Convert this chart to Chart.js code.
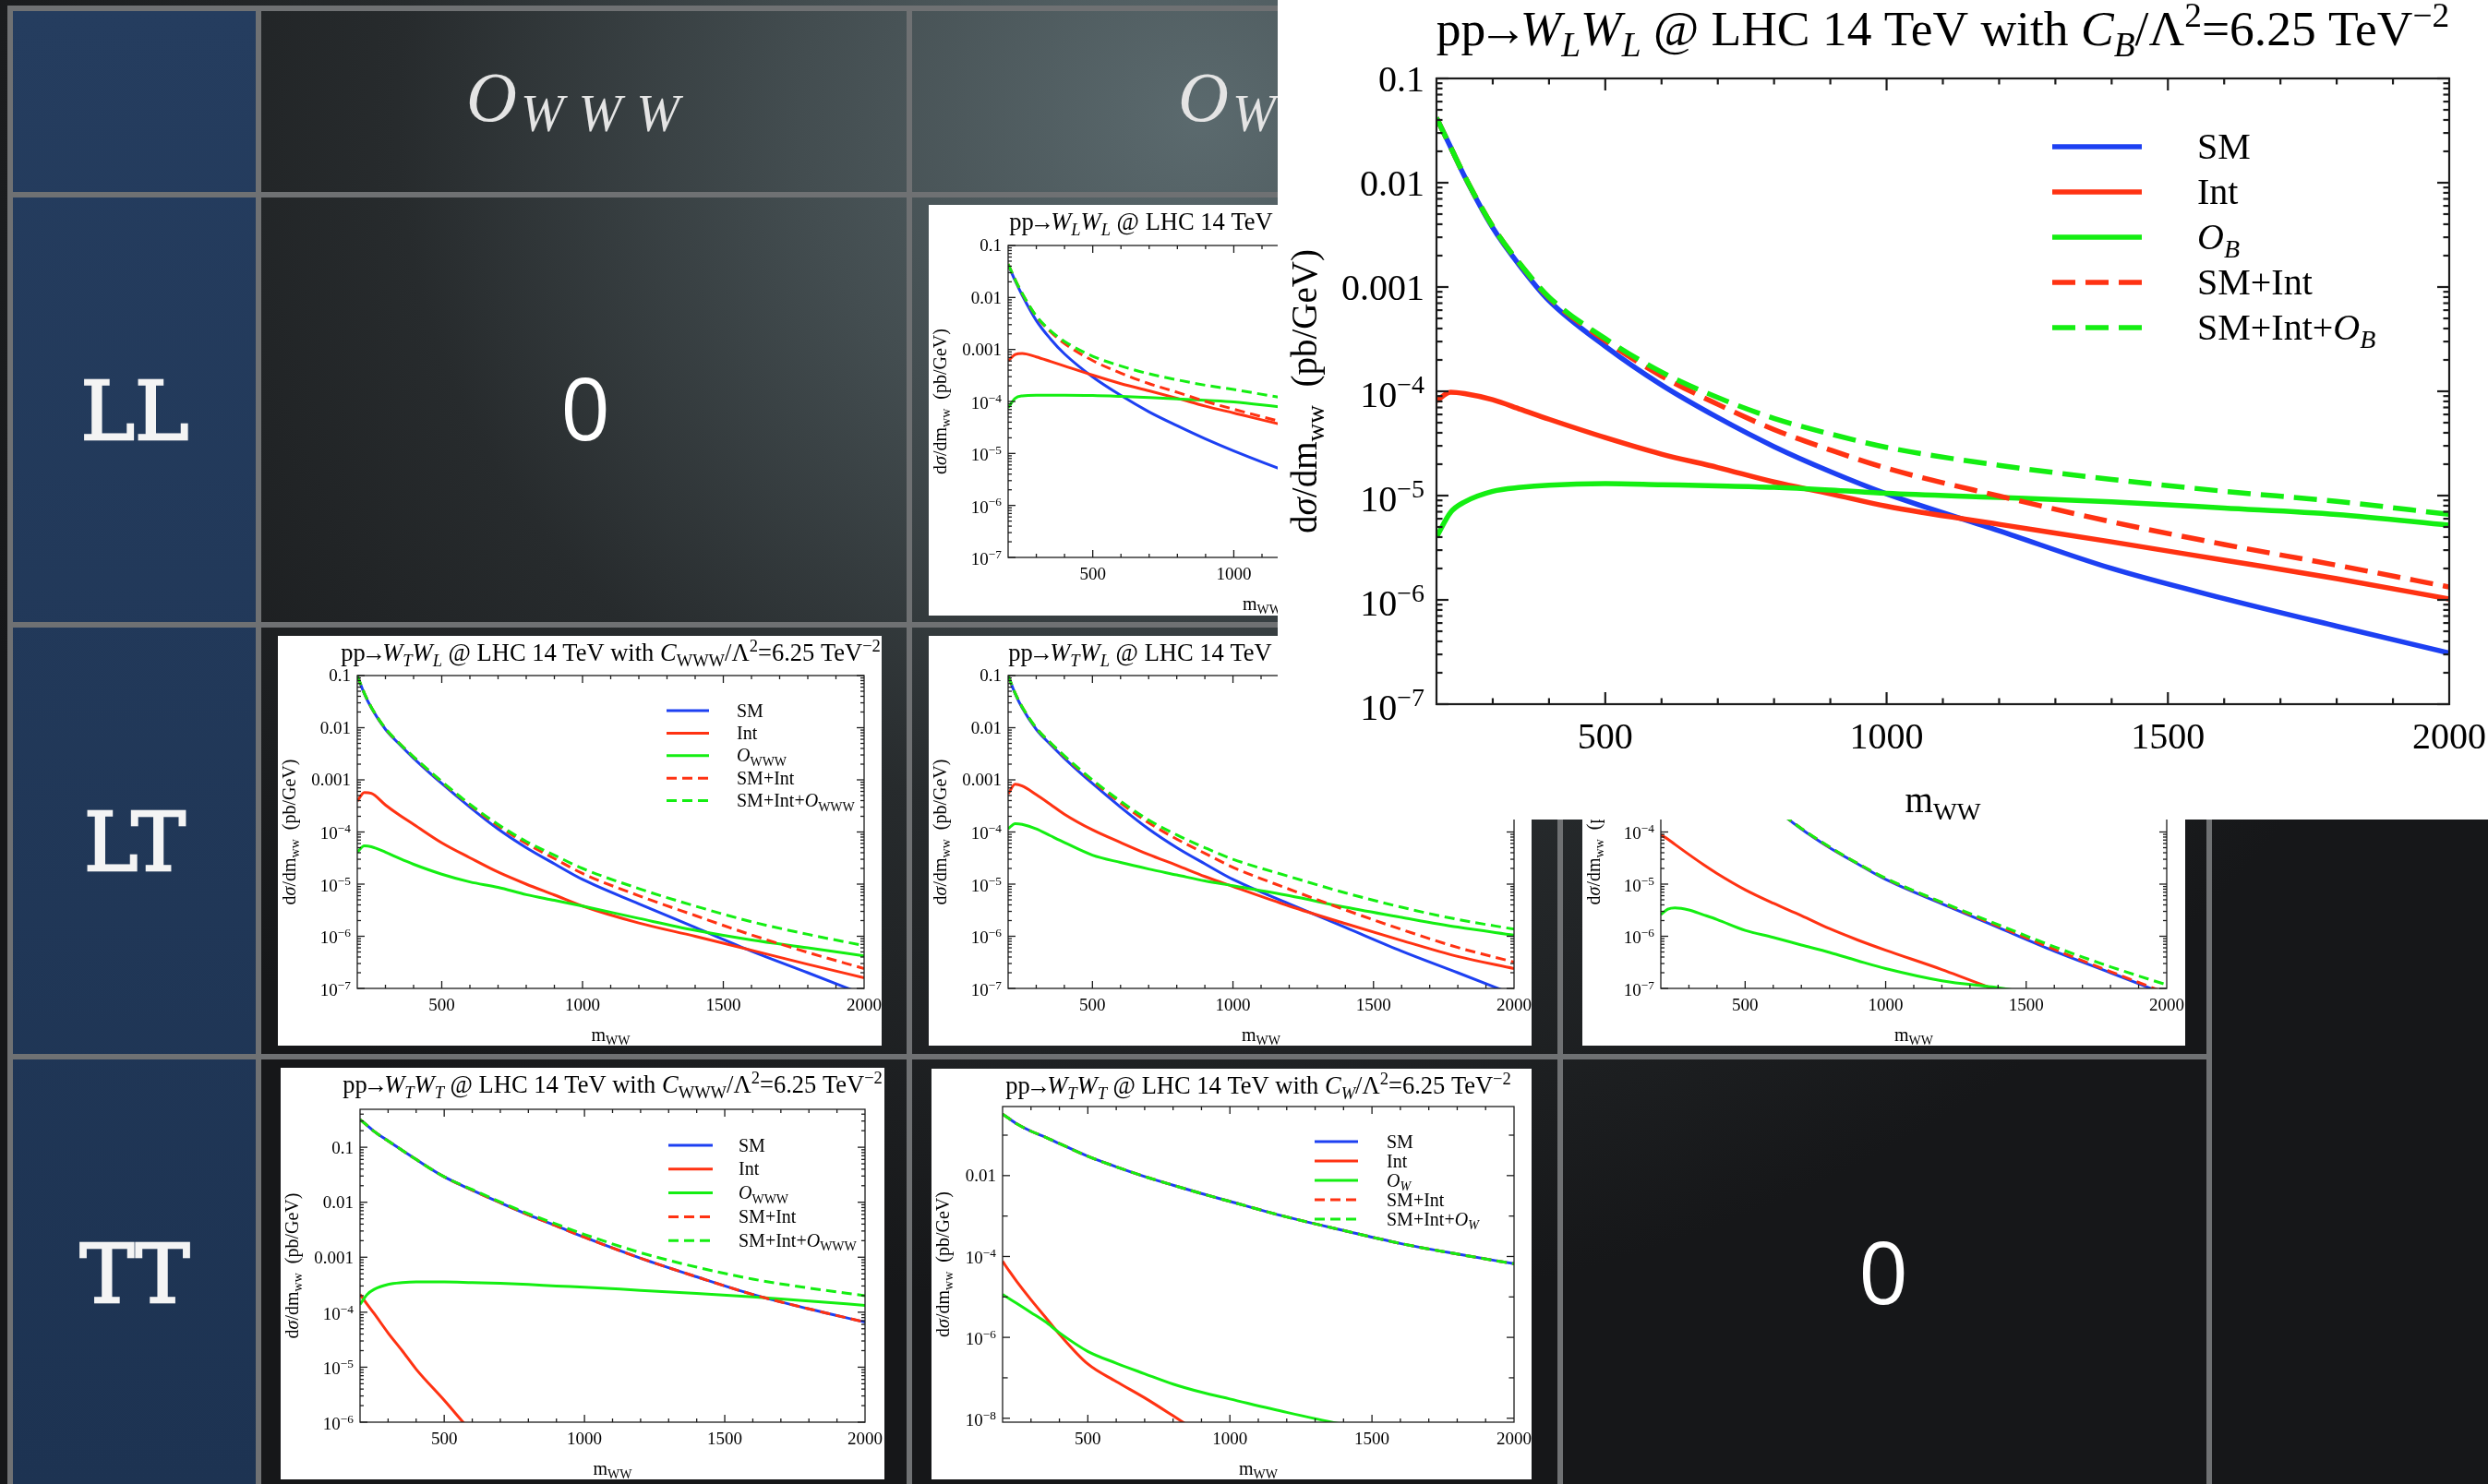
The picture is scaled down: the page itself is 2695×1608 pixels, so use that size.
<!DOCTYPE html>
<html>
<head>
<meta charset="utf-8">
<script src="https://cdn.jsdelivr.net/npm/chart.js@4.4.1/dist/chart.umd.min.js"></script>
<style>
  html, body { margin: 0; padding: 0; }
  body {
    width: 2695px; height: 1608px; overflow: hidden; position: relative;
    background: radial-gradient(ellipse 1450px 1300px at 1300px 130px, #5b6a6e 0%, #434d50 30%, #272b2d 60%, #161719 100%);
  }
  .navy { position: absolute; left: 14px; top: 12px; width: 263px; height: 1596px;
          background: linear-gradient(180deg, #253d5f, #1d3352); }
  .gl { position: absolute; background: #6f7173; z-index: 1; }
  .lbl { position: absolute; color: #f4f4f4; font-family: 'DejaVu Serif', serif; font-size: 88px;
         line-height: 88px; transform: translate(-50%, -50%); z-index: 2;
         -webkit-text-stroke: 2.5px #f4f4f4; }
  .zero { position: absolute; color: #fff; font-family: 'Open Sans', sans-serif; font-size: 94px;
          line-height: 94px; transform: translate(-50%, -50%); z-index: 2; }
  .hdr { position: absolute; color: #e4e4e4; font-family: 'Liberation Serif', serif; font-style: italic;
         font-size: 76px; line-height: 76px; white-space: nowrap; z-index: 2; }
  .hdr span { font-size: 56px; position: relative; top: 11px; left: 4px; letter-spacing: 16px; }
  canvas { position: absolute; background: #fff; }
</style>
</head>
<body>
<div class="navy"></div>

<div class="gl" style="left:8px;top:6px;width:6px;height:1602px"></div>
<div class="gl" style="left:277px;top:6px;width:6px;height:1602px"></div>
<div class="gl" style="left:982px;top:6px;width:6px;height:1602px"></div>
<div class="gl" style="left:1687px;top:6px;width:6px;height:1602px"></div>
<div class="gl" style="left:2390px;top:6px;width:6px;height:1602px"></div>
<div class="gl" style="left:8px;top:6px;width:2388px;height:6px"></div>
<div class="gl" style="left:8px;top:208px;width:2388px;height:6px"></div>
<div class="gl" style="left:8px;top:674px;width:2388px;height:6px"></div>
<div class="gl" style="left:8px;top:1142px;width:2388px;height:6px"></div>

<div class="hdr" style="left:505px;top:67px">O<span>WWW</span></div>
<div class="hdr" style="left:1276px;top:67px">O<span>W</span></div>
<div class="hdr" style="left:1990px;top:67px">O<span>B</span></div>

<div class="lbl" style="left:146px;top:446px">LL</div>
<div class="lbl" style="left:146px;top:913px">LT</div>
<div class="lbl" style="left:146px;top:1381px">TT</div>

<div class="zero" style="left:634px;top:441px">0</div>
<div class="zero" style="left:2040px;top:1377px">0</div>

<script>
// invariant mass grid (GeV)
const mWW = [200, 225, 250, 300, 350, 400, 500, 600, 700, 800, 900, 1000, 1200, 1400, 1600, 1800, 2000];

const xTickVals = [500, 1000, 1500, 2000];
const yTicksMain = [0.1, 0.01, 0.001, 1e-4, 1e-5, 1e-6, 1e-7];
const yTicksTTwww = [0.1, 0.01, 0.001, 1e-4, 1e-5, 1e-6];
const yTicksTTw = [0.01, 1e-4, 1e-6, 1e-8];

// W_L W_L, C_W
const llW_sm    = [0.043, 0.021, 0.011, 3.6e-3, 1.6e-3, 8.2e-4, 2.95e-4, 1.3e-4, 6.3e-5, 3.4e-5, 1.9e-5, 1.12e-5, 4.3e-6, 1.9e-6, 9.5e-7, 5.2e-7, 2.9e-7];
const llW_int   = [6.0e-4, 8.0e-4, 8.4e-4, 7.2e-4, 5.9e-4, 4.8e-4, 3.2e-4, 2.2e-4, 1.6e-4, 1.15e-4, 8.1e-5, 6.0e-5, 3.3e-5, 2.0e-5, 1.3e-5, 8.5e-6, 5.8e-6];
const llW_op    = [7.6e-5, 1.15e-4, 1.28e-4, 1.32e-4, 1.32e-4, 1.32e-4, 1.3e-4, 1.25e-4, 1.19e-4, 1.12e-4, 1.05e-4, 9.8e-5, 7.5e-5, 6.5e-5, 5.7e-5, 5.0e-5, 4.4e-5];
const llW_smInt = [0.044, 0.022, 0.0118, 4.3e-3, 2.2e-3, 1.3e-3, 6.1e-4, 3.5e-4, 2.2e-4, 1.5e-4, 1.0e-4, 7.1e-5, 3.7e-5, 2.2e-5, 1.4e-5, 9.0e-6, 6.1e-6];
const llW_all   = [0.044, 0.022, 0.012, 4.4e-3, 2.3e-3, 1.43e-3, 7.4e-4, 4.8e-4, 3.4e-4, 2.6e-4, 2.05e-4, 1.7e-4, 1.12e-4, 8.7e-5, 7.1e-5, 5.9e-5, 5.0e-5];

// W_L W_L, C_B
const llB_sm    = [0.042, 0.022, 0.0115, 3.7e-3, 1.55e-3, 7.4e-4, 2.7e-4, 1.15e-4, 5.6e-5, 2.95e-5, 1.7e-5, 1.04e-5, 4.6e-6, 2.0e-6, 1.03e-6, 5.6e-7, 3.1e-7];
const llB_int   = [8.1e-5, 9.8e-5, 9.5e-5, 8.3e-5, 6.7e-5, 5.4e-5, 3.6e-5, 2.5e-5, 1.86e-5, 1.35e-5, 1.04e-5, 7.9e-6, 5.3e-6, 3.6e-6, 2.4e-6, 1.6e-6, 1.02e-6];
const llB_op    = [4.0e-6, 6.9e-6, 8.7e-6, 1.1e-5, 1.2e-5, 1.26e-5, 1.3e-5, 1.27e-5, 1.24e-5, 1.2e-5, 1.13e-5, 1.05e-5, 9.6e-6, 8.7e-6, 7.6e-6, 6.6e-6, 5.2e-6];
const llB_smInt = [0.042, 0.022, 0.0116, 3.8e-3, 1.62e-3, 7.9e-4, 3.06e-4, 1.4e-4, 7.5e-5, 4.3e-5, 2.74e-5, 1.83e-5, 9.9e-6, 5.6e-6, 3.4e-6, 2.15e-6, 1.33e-6];
const llB_all   = [0.042, 0.022, 0.0116, 3.8e-3, 1.63e-3, 8.0e-4, 3.2e-4, 1.53e-4, 8.7e-5, 5.5e-5, 3.9e-5, 2.9e-5, 1.95e-5, 1.43e-5, 1.1e-5, 8.8e-6, 6.6e-6];

// W_T W_L, C_WWW
const ltWWW_sm    = [0.1, 0.045, 0.024, 9.3e-3, 4.8e-3, 2.6e-3, 8.5e-4, 3.0e-4, 1.14e-4, 5.0e-5, 2.45e-5, 1.23e-5, 4.2e-6, 1.48e-6, 5.2e-7, 2.0e-7, 7.6e-8];
const ltWWW_int   = [3.9e-4, 5.7e-4, 5.5e-4, 3.3e-4, 2.1e-4, 1.4e-4, 6.2e-5, 3.2e-5, 1.7e-5, 1.0e-5, 6.2e-6, 3.8e-6, 1.8e-6, 1.0e-6, 5.4e-7, 2.9e-7, 1.6e-7];
const ltWWW_op    = [4.1e-5, 5.4e-5, 5.2e-5, 4.1e-5, 3.1e-5, 2.4e-5, 1.55e-5, 1.1e-5, 8.7e-6, 6.3e-6, 4.9e-6, 3.8e-6, 2.2e-6, 1.3e-6, 8.5e-7, 6.0e-7, 4.2e-7];
const ltWWW_smInt = [0.1, 0.046, 0.0245, 9.6e-3, 5.0e-3, 2.74e-3, 9.1e-4, 3.3e-4, 1.31e-4, 6.0e-5, 3.1e-5, 1.6e-5, 6.0e-6, 2.5e-6, 1.06e-6, 4.9e-7, 2.4e-7];
const ltWWW_all   = [0.1, 0.046, 0.0246, 9.7e-3, 5.0e-3, 2.77e-3, 9.3e-4, 3.4e-4, 1.4e-4, 6.6e-5, 3.6e-5, 2.0e-5, 8.2e-6, 3.8e-6, 1.9e-6, 1.09e-6, 6.6e-7];

// W_T W_L, C_W
const ltW_sm    = [0.1, 0.045, 0.024, 9.3e-3, 4.8e-3, 2.6e-3, 8.5e-4, 3.0e-4, 1.14e-4, 5.0e-5, 2.45e-5, 1.23e-5, 4.2e-6, 1.48e-6, 5.2e-7, 2.0e-7, 7.6e-8];
const ltW_int   = [5.4e-4, 8.2e-4, 7.6e-4, 5.2e-4, 3.4e-4, 2.2e-4, 1.1e-4, 6.3e-5, 3.7e-5, 2.3e-5, 1.4e-5, 9.0e-6, 3.8e-6, 1.75e-6, 8.3e-7, 4.1e-7, 2.4e-7];
const ltW_op    = [1.15e-4, 1.45e-4, 1.4e-4, 1.15e-4, 8.5e-5, 6.3e-5, 3.6e-5, 2.6e-5, 1.95e-5, 1.5e-5, 1.15e-5, 9.3e-6, 6.0e-6, 3.6e-6, 2.3e-6, 1.5e-6, 1.05e-6];
const ltW_smInt = [0.1, 0.046, 0.025, 9.8e-3, 5.1e-3, 2.8e-3, 9.6e-4, 3.6e-4, 1.5e-4, 7.3e-5, 3.9e-5, 2.1e-5, 8.0e-6, 3.2e-6, 1.35e-6, 6.1e-7, 3.2e-7];
const ltW_all   = [0.1, 0.046, 0.025, 9.9e-3, 5.2e-3, 2.9e-3, 1.0e-3, 3.9e-4, 1.7e-4, 8.8e-5, 5.0e-5, 3.0e-5, 1.4e-5, 6.8e-6, 3.6e-6, 2.1e-6, 1.37e-6];

// W_T W_L, C_B
const ltB_sm    = [0.1, 0.045, 0.024, 9.3e-3, 4.8e-3, 2.6e-3, 8.5e-4, 3.0e-4, 1.14e-4, 5.0e-5, 2.45e-5, 1.23e-5, 4.2e-6, 1.48e-6, 5.2e-7, 2.0e-7, 7.6e-8];
const ltB_int   = [8.8e-5, 7.3e-5, 5.8e-5, 3.7e-5, 2.4e-5, 1.6e-5, 7.8e-6, 4.3e-6, 2.5e-6, 1.4e-6, 8.5e-7, 5.4e-7, 2.3e-7, 9.0e-8, 3.5e-8, 1.4e-8, 5.0e-9];
const ltB_op    = [2.6e-6, 3.3e-6, 3.5e-6, 3.2e-6, 2.6e-6, 2.1e-6, 1.3e-6, 9.5e-7, 6.8e-7, 4.9e-7, 3.4e-7, 2.4e-7, 1.4e-7, 1.03e-7, 7.0e-8, 5.0e-8, 3.6e-8];
const ltB_smInt = [0.1, 0.045, 0.024, 9.3e-3, 4.8e-3, 2.6e-3, 8.6e-4, 3.0e-4, 1.17e-4, 5.1e-5, 2.5e-5, 1.28e-5, 4.4e-6, 1.57e-6, 5.6e-7, 2.1e-7, 8.1e-8];
const ltB_all   = [0.1, 0.045, 0.024, 9.3e-3, 4.8e-3, 2.6e-3, 8.6e-4, 3.0e-4, 1.17e-4, 5.2e-5, 2.5e-5, 1.3e-5, 4.5e-6, 1.67e-6, 6.3e-7, 2.6e-7, 1.17e-7];

// W_T W_T, C_WWW
const ttWWW_sm    = [0.32, 0.25, 0.195, 0.13, 0.088, 0.06, 0.029, 0.0166, 9.8e-3, 5.9e-3, 3.7e-3, 2.3e-3, 9.6e-4, 4.4e-4, 2.1e-4, 1.15e-4, 6.6e-5];
const ttWWW_int   = [2.1e-4, 1.4e-4, 9.5e-5, 4.2e-5, 2.0e-5, 9.2e-6, 2.5e-6, 6.5e-7, 2.0e-7, 6.0e-8, 2.0e-8, 7.0e-9, 1.0e-9, 2.0e-10, 3.0e-11, 5.0e-12, 1.0e-12];
const ttWWW_op    = [1.39e-4, 2.1e-4, 2.6e-4, 3.2e-4, 3.45e-4, 3.55e-4, 3.55e-4, 3.45e-4, 3.35e-4, 3.2e-4, 3.0e-4, 2.85e-4, 2.5e-4, 2.2e-4, 1.9e-4, 1.6e-4, 1.33e-4];
const ttWWW_smInt = [0.32, 0.25, 0.195, 0.13, 0.088, 0.06, 0.029, 0.0166, 9.8e-3, 5.9e-3, 3.7e-3, 2.3e-3, 9.6e-4, 4.4e-4, 2.1e-4, 1.15e-4, 6.6e-5];
const ttWWW_all   = [0.32, 0.25, 0.195, 0.13, 0.088, 0.06, 0.029, 0.017, 0.0101, 6.2e-3, 4.0e-3, 2.6e-3, 1.21e-3, 6.6e-4, 4.0e-4, 2.75e-4, 2.0e-4];

// W_T W_T, C_W
const ttW_sm    = [0.33, 0.25, 0.19, 0.125, 0.09, 0.062, 0.03, 0.0165, 9.5e-3, 5.8e-3, 3.6e-3, 2.3e-3, 9.5e-4, 4.4e-4, 2.1e-4, 1.15e-4, 6.6e-5];
const ttW_int   = [7.6e-5, 4.2e-5, 2.4e-5, 8.5e-6, 3.2e-6, 1.2e-6, 2.2e-7, 8.1e-8, 3.2e-8, 1.15e-8, 4.0e-9, 1.4e-9, 2.0e-10, 3.0e-11, 5.0e-12, 1.0e-12, 2.0e-13];
const ttW_op    = [1.15e-5, 8.9e-6, 6.9e-6, 4.1e-6, 2.45e-6, 1.3e-6, 4.5e-7, 2.3e-7, 1.26e-7, 7.0e-8, 4.4e-8, 3.0e-8, 1.4e-8, 7.0e-9, 4.0e-9, 2.5e-9, 1.6e-9];
const ttW_smInt = [0.33, 0.25, 0.19, 0.125, 0.09, 0.062, 0.03, 0.0165, 9.5e-3, 5.8e-3, 3.6e-3, 2.3e-3, 9.5e-4, 4.4e-4, 2.1e-4, 1.15e-4, 6.6e-5];
const ttW_all   = [0.33, 0.25, 0.19, 0.125, 0.09, 0.062, 0.03, 0.0165, 9.5e-3, 5.8e-3, 3.6e-3, 2.3e-3, 9.5e-4, 4.4e-4, 2.1e-4, 1.15e-4, 6.6e-5];

const BLUE = '#1d40f2', RED = '#ff3212', GREEN = '#14ee12';
const lineColors = [BLUE, RED, GREEN, RED, GREEN];
const lineDashed = [false, false, false, true, true];
const SERIF = "'Liberation Serif', 'Times New Roman', serif";

// rich text: list of [text, flags]; flags: i = italic, _ = subscript, ^ = superscript, < = tight
function segFont(f, size) {
  const small = f.includes('_') || f.includes('^');
  return (f.includes('i') ? 'italic ' : '') + (small ? size * 0.7 : size) + 'px ' + SERIF;
}
function segAdvance(ctx, t, f, size) {
  ctx.font = segFont(f, size);
  return ctx.measureText(t).width - (f.includes('<') ? size * 0.3 : 0);
}
function richWidth(ctx, segs, size) {
  let w = 0;
  for (const [t, f] of segs) w += segAdvance(ctx, t, f, size);
  return w;
}
function drawRich(ctx, segs, x, y, size, align) {
  const w = richWidth(ctx, segs, size);
  let cx = align === 'center' ? x - w / 2 : align === 'right' ? x - w : x;
  ctx.textAlign = 'left';
  ctx.textBaseline = 'alphabetic';
  for (const [t, f] of segs) {
    const adv = segAdvance(ctx, t, f, size);
    const dy = f.includes('_') ? size * 0.22 : f.includes('^') ? -size * 0.38 : 0;
    ctx.fillText(t, cx - (f.includes('<') ? size * 0.15 : 0), y + dy);
    cx += adv;
  }
}

function opSub(op) { return op === 'WWW' ? ['WWW', '_'] : [op, 'i_']; }
function titleSegs(pol, op) {
  return [['pp', ''], ['→', '<'], ['W', 'i'], [pol[0], 'i_'], ['W', 'i'], [pol[1], 'i_'], [' @ LHC 14 TeV with ', ''],
          ['C', 'i'], opSub(op), ['/Λ', ''], ['2', '^'], ['=6.25 TeV', ''], ['−2', '^']];
}
function legendSegs(op) {
  return [[['SM', '']], [['Int', '']], [['O', 'i'], opSub(op)], [['SM+Int', '']], [['SM+Int+', ''], ['O', 'i'], opSub(op)]];
}
function yTickSegs(v) {
  const e = Math.round(Math.log10(v));
  if (e >= -3) return [[v.toFixed(-e), '']];
  return [['10', ''], ['−' + (-e), '^']];
}

const smallStyle = { tick: 19, title: 26.5, leg: 20, axis: 20, lw: 3, dash: [11, 6], frame: 1.3, major: 8, minor: 4,
                     xLabDy: 24, yLabDx: 7, xTitleDy: 57, yTitleX: 12, titleY: 27 };
const bigStyle   = { tick: 40, title: 53.5, leg: 40, axis: 39, lw: 5.5, dash: [25, 11], frame: 2.2, major: 13, minor: 6.5,
                     xLabDy: 48, yLabDx: 13, xTitleDy: 117, yTitleX: 29, titleY: 49 };

function framePlugin(c, st) {
  return {
    id: 'frame',
    afterDraw(chart) {
      const ctx = chart.ctx, a = chart.chartArea, xs = chart.scales.x, ys = chart.scales.y;
      const seg = (x1, y1, x2, y2) => { ctx.beginPath(); ctx.moveTo(x1, y1); ctx.lineTo(x2, y2); ctx.stroke(); };
      ctx.save();
      ctx.strokeStyle = '#1c1c1c';
      ctx.lineWidth = st.frame;
      ctx.strokeRect(a.left, a.top, a.right - a.left, a.bottom - a.top);

      // x ticks every 100 GeV, long ones on the labelled values
      for (let v = 300; v < 2000; v += 100) {
        const px = xs.getPixelForValue(v);
        const L = xTickVals.includes(v) ? st.major : st.minor;
        seg(px, a.bottom, px, a.bottom - L);
        seg(px, a.top, px, a.top + L);
      }
      // y ticks: decades and their subdivisions
      const lo = Math.floor(Math.log10(c.ymin)), hi = Math.ceil(Math.log10(c.ymax));
      for (let d = lo; d <= hi; d++) {
        for (let m = 1; m <= 9; m++) {
          const v = m * Math.pow(10, d);
          if (v < c.ymin * 0.999 || v > c.ymax * 1.001) continue;
          if (m > 1 && !c.subTicks) continue;
          const major = m === 1 && c.yTicks.some(t => Math.abs(Math.log10(t) - d) < 1e-6);
          const L = major ? st.major : (m === 1 ? st.major * 0.7 : st.minor);
          const py = ys.getPixelForValue(v);
          seg(a.left, py, a.left + L, py);
          seg(a.right, py, a.right - L, py);
        }
      }

      ctx.fillStyle = '#000';
      xTickVals.forEach(v => drawRich(ctx, [[String(v), '']], xs.getPixelForValue(v), a.bottom + st.xLabDy, st.tick, 'center'));
      c.yTicks.forEach(v => {
        const segs = yTickSegs(v);
        const off = segs.length > 1 ? 0.42 : 0.34;
        drawRich(ctx, segs, a.left - st.yLabDx, ys.getPixelForValue(v) + st.tick * off, st.tick, 'right');
      });

      // title and axis titles
      drawRich(ctx, titleSegs(c.pol, c.op), (a.left + a.right) / 2, st.titleY, st.title, 'center');
      drawRich(ctx, [['m', ''], ['WW', '_']], (a.left + a.right) / 2, a.bottom + st.xTitleDy, st.axis, 'center');
      ctx.save();
      ctx.translate(st.yTitleX, (a.top + a.bottom) / 2);
      ctx.rotate(-Math.PI / 2);
      drawRich(ctx, [['d', ''], ['σ', 'i'], ['/dm', ''], ['ww', '_'], ['  (pb/GeV)', '']], 0, st.axis * 0.33, st.axis, 'center');
      ctx.restore();

      // legend inside the frame
      const labels = legendSegs(c.op);
      chart.data.datasets.forEach((ds, i) => {
        const y = a.top + c.leg.top + i * c.leg.gap;
        ctx.strokeStyle = ds.borderColor;
        ctx.lineWidth = ds.borderWidth;
        ctx.setLineDash(ds.borderDash || []);
        seg(a.left + c.leg.x0, y, a.left + c.leg.x1, y);
        ctx.setLineDash([]);
        drawRich(ctx, labels[i], a.left + c.leg.tx, y + st.leg * 0.33, st.leg, 'left');
      });
      ctx.restore();
    }
  };
}

function makeChart(c) {
  const st = c.big ? bigStyle : smallStyle;
  const cv = document.createElement('canvas');
  cv.width = c.box[2];
  cv.height = c.box[3];
  cv.style.left = c.box[0] + 'px';
  cv.style.top = c.box[1] + 'px';
  cv.style.zIndex = c.big ? 6 : 3;
  document.body.appendChild(cv);

  new Chart(cv, {
    type: 'line',
    data: {
      datasets: c.series.map((arr, i) => ({
        data: mWW.map((x, j) => ({ x: x, y: arr[j] })),
        borderColor: lineColors[i],
        borderWidth: st.lw,
        borderDash: lineDashed[i] ? st.dash : [],
        pointRadius: 0,
        fill: false,
        cubicInterpolationMode: 'monotone',
        order: 4 - i
      }))
    },
    options: {
      responsive: false,
      animation: false,
      devicePixelRatio: 1,
      events: [],
      layout: { padding: c.pad },
      plugins: { legend: { display: false }, tooltip: { enabled: false }, title: { display: false } },
      scales: {
        x: { type: 'linear', min: 200, max: 2000, display: false },
        y: { type: 'logarithmic', min: c.ymin, max: c.ymax, display: false }
      }
    },
    plugins: [framePlugin(c, st)]
  });
}

const legSmall = { x0: 335, x1: 381, tx: 411, top: 38, gap: 24.4 };

makeChart({ box: [1006, 222, 654, 445], pad: { left: 86, top: 44, right: 18, bottom: 63 },
  ymin: 1e-7, ymax: 0.1, yTicks: yTicksMain, subTicks: true, pol: ['L', 'L'], op: 'W', leg: legSmall,
  series: [llW_sm, llW_int, llW_op, llW_smInt, llW_all] });

makeChart({ box: [301, 689, 654, 444], pad: { left: 86, top: 43, right: 19, bottom: 62 },
  ymin: 1e-7, ymax: 0.1, yTicks: yTicksMain, subTicks: true, pol: ['T', 'L'], op: 'WWW', leg: legSmall,
  series: [ltWWW_sm, ltWWW_int, ltWWW_op, ltWWW_smInt, ltWWW_all] });

makeChart({ box: [1006, 689, 653, 444], pad: { left: 86, top: 43, right: 19, bottom: 62 },
  ymin: 1e-7, ymax: 0.1, yTicks: yTicksMain, subTicks: true, pol: ['T', 'L'], op: 'W', leg: legSmall,
  series: [ltW_sm, ltW_int, ltW_op, ltW_smInt, ltW_all] });

makeChart({ box: [1714, 689, 653, 444], pad: { left: 85, top: 43, right: 20, bottom: 62 },
  ymin: 1e-7, ymax: 0.1, yTicks: yTicksMain, subTicks: true, pol: ['T', 'L'], op: 'B', leg: legSmall,
  series: [ltB_sm, ltB_int, ltB_op, ltB_smInt, ltB_all] });

makeChart({ box: [304, 1157, 654, 446], pad: { left: 86, top: 45, right: 21, bottom: 62 },
  ymin: 1e-6, ymax: 0.49, yTicks: yTicksTTwww, subTicks: true, pol: ['T', 'T'], op: 'WWW',
  leg: { x0: 334, x1: 382, tx: 410, top: 39, gap: 25.8 },
  series: [ttWWW_sm, ttWWW_int, ttWWW_op, ttWWW_smInt, ttWWW_all] });

makeChart({ box: [1009, 1158, 650, 445], pad: { left: 77, top: 41, right: 19, bottom: 62 },
  ymin: 8e-9, ymax: 0.51, yTicks: yTicksTTw, subTicks: false, pol: ['T', 'T'], op: 'W',
  leg: { x0: 338, x1: 385, tx: 416, top: 38, gap: 21 },
  series: [ttW_sm, ttW_int, ttW_op, ttW_smInt, ttW_all] });

makeChart({ big: true, box: [1384, 0, 1311, 888], pad: { left: 172, top: 85, right: 42, bottom: 125 },
  ymin: 1e-7, ymax: 0.1, yTicks: yTicksMain, subTicks: true, pol: ['L', 'L'], op: 'B',
  leg: { x0: 667, x1: 764, tx: 824, top: 74, gap: 49 },
  series: [llB_sm, llB_int, llB_op, llB_smInt, llB_all] });
</script>
</body>
</html>
